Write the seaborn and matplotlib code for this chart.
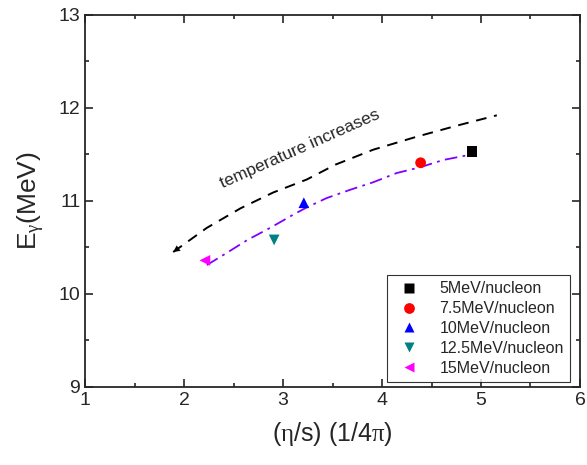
import numpy as np
import matplotlib
matplotlib.use("Agg")
import matplotlib.pyplot as plt
import pandas as pd
import seaborn as sns

# Données
energies = ["5MeV/nucleon", "7.5MeV/nucleon", "10MeV/nucleon", "12.5MeV/nucleon", "15MeV/nucleon"]
eta_s = [4.91, 4.39, 3.21, 2.91, 2.21]
e_gamma = [11.53, 11.41, 10.98, 10.58, 10.36]
couleurs = ["black", "red", "blue", "#008080", "magenta"]
marqueurs = ["s", "o", "^", "v", "<"]

# courbe tiretée (tendance en température)
temp_x = [1.89, 2.23, 2.57, 2.90, 3.24, 3.53, 3.91, 4.35, 4.76, 5.16]
temp_y = [10.45, 10.71, 10.92, 11.09, 11.23, 11.39, 11.55, 11.69, 11.81, 11.92]

# courbe point-tiret violette
fit_x = [2.23, 2.43, 2.64, 2.87, 3.10, 3.24, 3.44, 3.68, 3.91, 4.15, 4.38, 4.62, 4.86]
fit_y = [10.31, 10.44, 10.58, 10.71, 10.85, 10.93, 11.03, 11.12, 11.20, 11.30, 11.36, 11.44, 11.49]

sns.set_style("ticks")
plt.rcParams['font.family'] = ['Liberation Sans', 'DejaVu Sans']
plt.rcParams['mathtext.fontset'] = 'custom'
plt.rcParams['mathtext.rm'] = 'Liberation Serif'
plt.rcParams['mathtext.it'] = 'Liberation Serif'

df = pd.DataFrame({"eta": eta_s, "E": e_gamma, "energie": energies})

fig = plt.figure(figsize=(5.87, 4.65), dpi=100)
ax = fig.add_axes([0.145, 0.168, 0.843, 0.8])

sns.lineplot(x=temp_x, y=temp_y, ax=ax, color="black", linestyle=(0, (5.5, 4)),
             linewidth=1.4, sort=False)
ax.annotate("", xy=(temp_x[0], temp_y[0]), xytext=(temp_x[1], temp_y[1]),
            arrowprops=dict(arrowstyle="-|>", color="black", lw=0,
                            mutation_scale=12, shrinkA=0, shrinkB=0))
sns.lineplot(x=fit_x, y=fit_y, ax=ax, color="#8000ff", linestyle=(0, (7, 3, 1.5, 3)),
             linewidth=1.3, sort=False)

sns.scatterplot(data=df, x="eta", y="E", hue="energie", style="energie",
                palette=couleurs, markers=marqueurs, s=60, edgecolor="none",
                ax=ax, zorder=5)

ax.text(3.17, 11.56, "temperature increases", rotation=24, fontsize=12.5,
        ha="center", va="center")

ax.set_xlim(1, 6)
ax.set_ylim(9, 13)
ax.set_xticks([1, 2, 3, 4, 5, 6])
ax.set_yticks([9, 10, 11, 12, 13])
ax.set_xticks(np.arange(1.5, 6, 1), minor=True)
ax.set_yticks(np.arange(9.5, 13, 1), minor=True)
ax.tick_params(which="both", direction="in", top=True, right=True, labelsize=14, width=1.2)
ax.tick_params(which="major", length=6)
ax.tick_params(which="minor", length=3)
for sp in ax.spines.values():
    sp.set_linewidth(1.3)

ax.set_xlabel(r"($\eta$/s) (1/4$\pi$)", fontsize=18, labelpad=8)
ax.set_ylabel(r"E$_{\gamma}$(MeV)", fontsize=19, labelpad=8)

leg = ax.legend(loc="lower right", bbox_to_anchor=(0.98, 0.013), borderaxespad=0,
                fontsize=11.5, frameon=True, fancybox=False, edgecolor="black",
                handletextpad=0.9, borderpad=0.4, labelspacing=0.3, markerscale=1.0)
leg.get_frame().set_linewidth(0.8)

fig.savefig("out.png", dpi=100)
